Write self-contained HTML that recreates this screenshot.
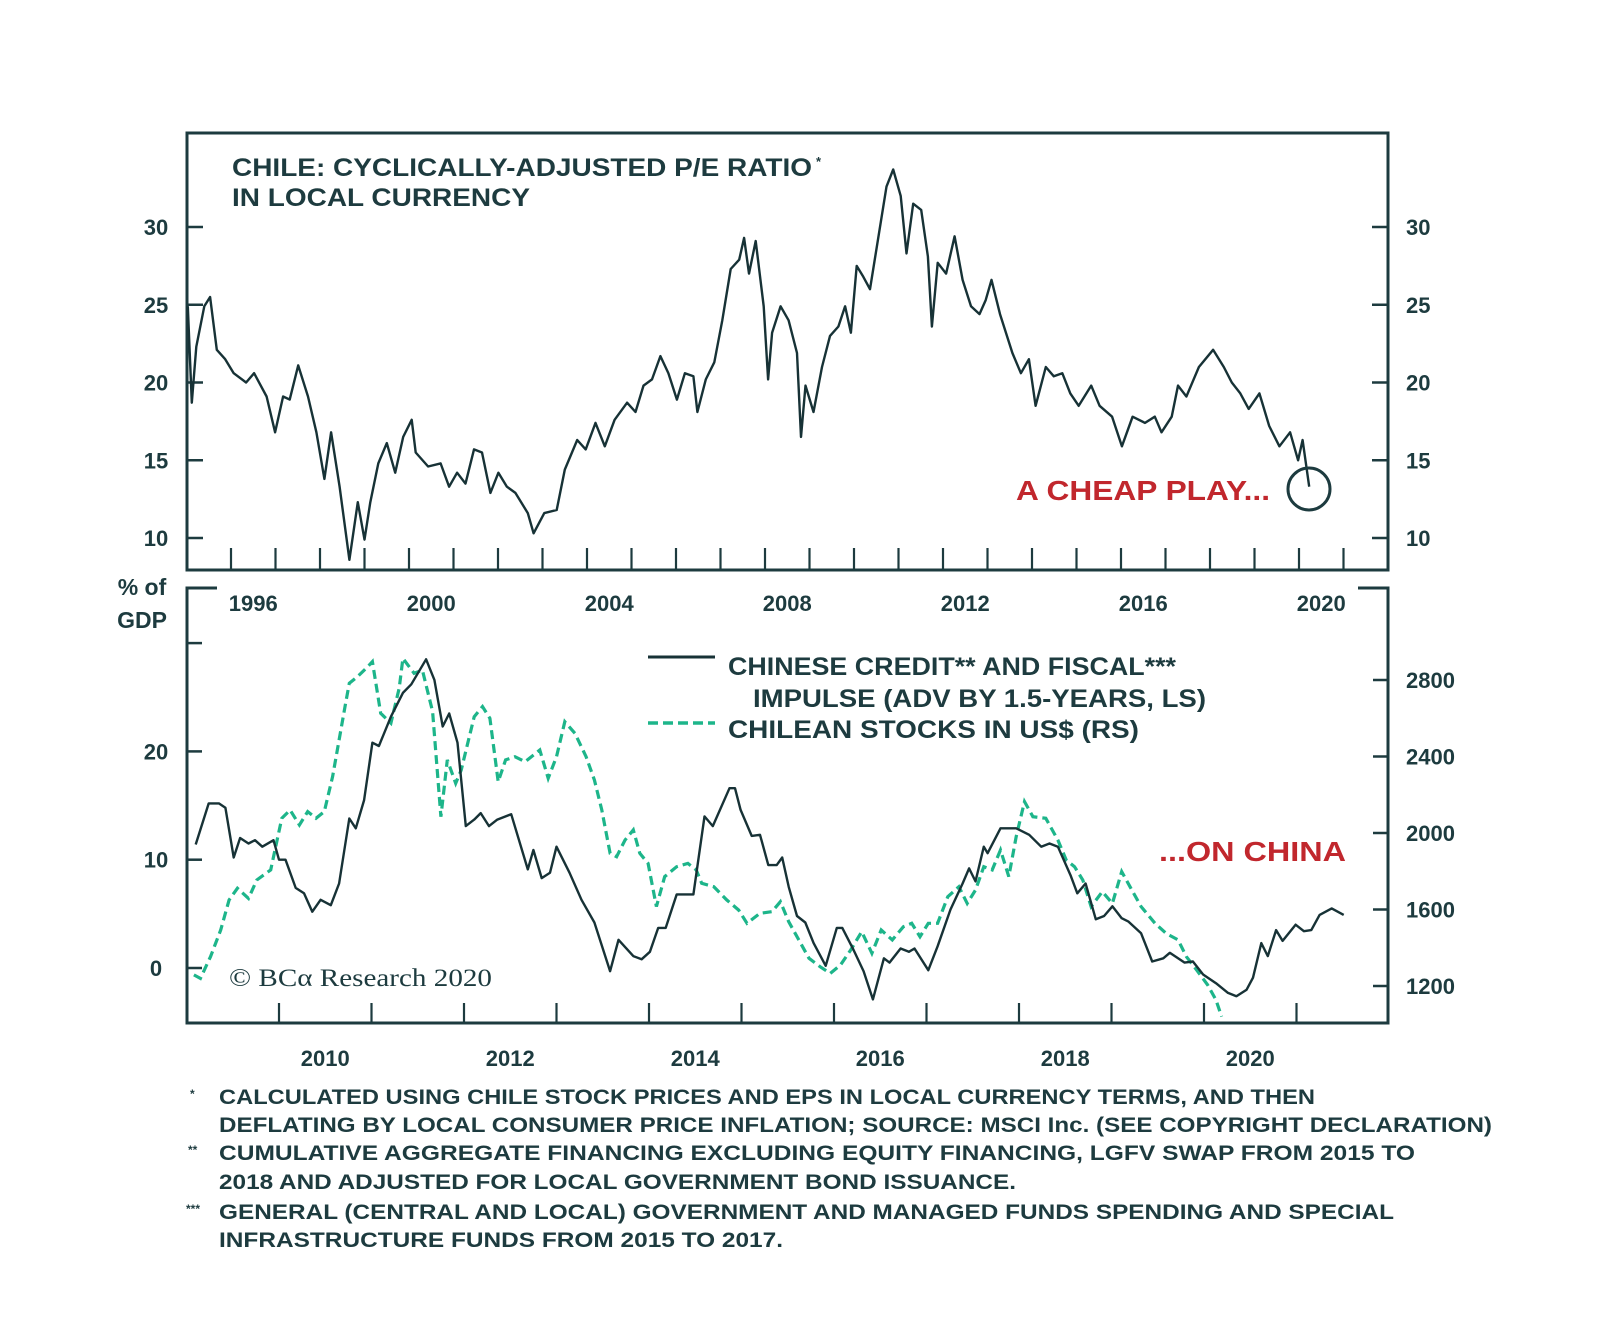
<!DOCTYPE html>
<html><head><meta charset="utf-8"><style>
html,body{margin:0;padding:0;background:#fff;}
svg text{font-family:"Liberation Sans",sans-serif;font-weight:bold;fill:#1d3b3f;}
</style></head><body>
<svg id="chart" width="1600" height="1318" viewBox="0 0 1600 1318" xmlns="http://www.w3.org/2000/svg">
<rect width="1600" height="1318" fill="#fff"/>
<g id="top-panel"></g>
<g id="bottom-panel"></g>
</svg>
<script>
// ---- Top panel data: Chile CAPE (year, value)
const peYears=[1995.03,1995.12,1995.22,1995.40,1995.53,1995.68,1995.87,1996.06,1996.34,1996.52,1996.80,1996.99,1997.17,1997.32,1997.51,1997.73,1997.92,1998.10,1998.25,1998.44,1998.66,1998.85,1999.00,1999.13,1999.31,1999.50,1999.69,1999.87,2000.06,2000.15,2000.43,2000.71,2000.90,2001.08,2001.27,2001.46,2001.64,2001.83,2002.01,2002.20,2002.39,2002.67,2002.80,2003.04,2003.32,2003.50,2003.78,2003.97,2004.19,2004.40,2004.62,2004.90,2005.09,2005.27,2005.46,2005.65,2005.83,2006.02,2006.20,2006.39,2006.48,2006.67,2006.86,2007.04,2007.23,2007.42,2007.53,2007.64,2007.79,2007.97,2008.07,2008.16,2008.35,2008.53,2008.72,2008.81,2008.91,2009.09,2009.28,2009.46,2009.65,2009.80,2009.93,2010.06,2010.21,2010.36,2010.54,2010.73,2010.88,2011.05,2011.18,2011.33,2011.51,2011.66,2011.75,2011.88,2012.07,2012.26,2012.44,2012.63,2012.82,2012.96,2013.09,2013.28,2013.56,2013.75,2013.93,2014.08,2014.31,2014.49,2014.68,2014.86,2015.05,2015.33,2015.52,2015.80,2016.02,2016.26,2016.54,2016.76,2016.91,2017.14,2017.28,2017.47,2017.75,2018.07,2018.31,2018.49,2018.68,2018.87,2019.11,2019.33,2019.56,2019.80,2019.98,2020.08,2020.23];
const peValues=[24.9,18.7,22.3,24.9,25.5,22.1,21.5,20.6,20,20.6,19.1,16.8,19.1,18.9,21.1,19.1,16.8,13.8,16.8,13.3,8.6,12.3,9.9,12.3,14.8,16.1,14.2,16.5,17.6,15.5,14.6,14.8,13.3,14.2,13.5,15.7,15.5,12.9,14.2,13.3,12.9,11.6,10.3,11.6,11.8,14.4,16.3,15.7,17.4,15.9,17.6,18.7,18.1,19.8,20.2,21.7,20.6,18.9,20.6,20.4,18.1,20.2,21.3,24,27.3,27.9,29.3,27,29.1,24.9,20.2,23.2,24.9,24,21.9,16.5,19.8,18.1,21,23,23.6,24.9,23.2,27.5,26.8,26,29.2,32.6,33.7,32,28.3,31.5,31.1,28.1,23.6,27.7,27,29.4,26.6,24.9,24.4,25.3,26.6,24.4,21.9,20.6,21.5,18.5,21,20.4,20.6,19.3,18.5,19.8,18.5,17.8,15.9,17.8,17.4,17.8,16.8,17.8,19.8,19.1,21,22.1,21,20,19.3,18.3,19.3,17.2,15.9,16.8,15,16.3,13.3];
const peTicks=[10,15,20,25,30];
const topYearLabels=[1996,2000,2004,2008,2012,2016,2020];
// ---- Bottom panel data
const impYears=[2009.10,2009.24,2009.35,2009.42,2009.51,2009.58,2009.67,2009.74,2009.82,2009.94,2010.00,2010.07,2010.18,2010.27,2010.36,2010.45,2010.56,2010.65,2010.76,2010.83,2010.92,2011.01,2011.08,2011.21,2011.34,2011.43,2011.59,2011.68,2011.77,2011.84,2011.93,2012.02,2012.11,2012.18,2012.27,2012.36,2012.51,2012.69,2012.75,2012.84,2012.93,2013.00,2013.14,2013.27,2013.41,2013.58,2013.67,2013.83,2013.92,2014.01,2014.10,2014.18,2014.30,2014.48,2014.60,2014.69,2014.87,2014.93,2014.99,2015.11,2015.20,2015.29,2015.38,2015.44,2015.51,2015.60,2015.69,2015.78,2015.91,2016.03,2016.09,2016.21,2016.32,2016.42,2016.54,2016.60,2016.72,2016.81,2016.87,2017.02,2017.12,2017.26,2017.39,2017.46,2017.53,2017.62,2017.66,2017.80,2017.97,2018.11,2018.24,2018.33,2018.42,2018.56,2018.63,2018.72,2018.83,2018.92,2019.01,2019.11,2019.18,2019.32,2019.44,2019.56,2019.63,2019.79,2019.88,2019.99,2020.13,2020.26,2020.35,2020.46,2020.53,2020.62,2020.69,2020.78,2020.85,2020.99,2021.08,2021.16,2021.25,2021.38,2021.51];
const impValues=[11.4,15.2,15.2,14.8,10.2,12.0,11.5,11.8,11.2,11.8,10.0,10.0,7.4,6.9,5.2,6.3,5.8,7.8,13.8,12.9,15.5,20.8,20.5,23.2,25.4,26.2,28.5,26.6,22.3,23.5,20.8,13.1,13.7,14.3,13.1,13.7,14.2,9.1,10.9,8.3,8.8,11.2,8.8,6.3,4.2,-0.3,2.6,1.1,0.8,1.5,3.7,3.7,6.8,6.8,14.0,13.1,16.6,16.6,14.6,12.2,12.3,9.5,9.5,10.2,7.5,4.8,4.2,2.3,0.2,3.7,3.7,1.7,-0.3,-2.9,0.9,0.5,1.8,1.5,1.8,-0.2,2.0,5.4,7.8,9.2,8.0,11.2,10.6,12.9,12.9,12.3,11.2,11.5,11.2,8.5,6.9,7.8,4.5,4.8,5.7,4.6,4.3,3.2,0.6,0.9,1.4,0.5,0.6,-0.6,-1.4,-2.3,-2.6,-2.0,-0.9,2.3,1.1,3.5,2.5,4.0,3.4,3.5,4.9,5.5,4.9];
const stkYears=[2009.08,2009.15,2009.26,2009.37,2009.46,2009.55,2009.67,2009.76,2009.91,2010.03,2010.12,2010.22,2010.31,2010.40,2010.49,2010.58,2010.72,2010.76,2010.85,2010.96,2011.01,2011.10,2011.21,2011.30,2011.34,2011.46,2011.55,2011.66,2011.75,2011.82,2011.91,2011.97,2012.11,2012.20,2012.28,2012.37,2012.45,2012.55,2012.66,2012.82,2012.91,2013.00,2013.09,2013.20,2013.32,2013.41,2013.49,2013.58,2013.65,2013.74,2013.83,2013.90,2013.99,2014.08,2014.17,2014.30,2014.42,2014.51,2014.57,2014.70,2014.84,2014.97,2015.06,2015.20,2015.33,2015.42,2015.51,2015.62,2015.73,2015.85,2015.96,2016.07,2016.18,2016.30,2016.41,2016.51,2016.63,2016.75,2016.84,2016.93,2017.02,2017.12,2017.23,2017.35,2017.44,2017.53,2017.62,2017.71,2017.80,2017.89,2017.97,2018.06,2018.15,2018.29,2018.42,2018.51,2018.60,2018.69,2018.78,2018.90,2019.01,2019.11,2019.20,2019.32,2019.47,2019.59,2019.72,2019.81,2019.92,2020.04,2020.13,2020.19];
const stkValues=[1258,1240,1353,1493,1650,1711,1658,1754,1807,2077,2120,2042,2112,2077,2112,2295,2678,2783,2818,2870,2896,2626,2574,2757,2913,2835,2852,2635,2085,2382,2260,2329,2608,2661,2600,2268,2382,2399,2373,2434,2286,2399,2582,2521,2399,2277,2120,1894,1876,1963,2016,1894,1841,1615,1772,1824,1841,1807,1737,1719,1650,1597,1528,1580,1589,1641,1536,1441,1345,1301,1266,1310,1388,1484,1371,1493,1441,1510,1528,1458,1528,1528,1667,1719,1632,1702,1824,1807,1911,1772,1981,2164,2085,2077,1963,1859,1824,1754,1615,1693,1632,1798,1719,1615,1528,1475,1441,1353,1284,1205,1127,1040];
const leftTicks=[0,10,20];
const rightTicks=[1200,1600,2000,2400,2800];
const bottomYearLabels=[2010,2012,2014,2016,2018,2020];

const NS='http://www.w3.org/2000/svg';
function mk(parent,tag,attrs,txt){const e=document.createElementNS(NS,tag);for(const k in attrs)e.setAttribute(k,attrs[k]);if(txt!==undefined)e.textContent=txt;parent.appendChild(e);return e;}
const C='#1d3b3f', RED='#c1272d', GREEN='#1db58a';
const RX=1388;
// axis functions
const xTop=y=>231+(y-1996)*44.5;
const yTop=v=>227+(30-v)*15.55;
const xBot=y=>279+(y-2010)*92.5;
const yLeft=v=>968-v*10.83;
const yRight=v=>986-(v-1200)*0.19125;

const T=document.getElementById('top-panel');
const B=document.getElementById('bottom-panel');

// ---- TOP PANEL
let f=mk(T,'path',{d:'M187,133 H'+RX+' V570 H187 Z',fill:'none',stroke:C,'stroke-width':3});

peTicks.forEach(v=>{
  const y=yTop(v);
  let t=mk(T,'line',{x1:187,x2:203,y1:y,y2:y,stroke:C,'stroke-width':2.5});
  
  t=mk(T,'line',{x1:RX-16,x2:RX,y1:y,y2:y,stroke:C,'stroke-width':2.5});
  
  let l=mk(T,'text',{x:156,y:y+8,'font-size':22,'text-anchor':'middle'},String(v));
  
  l=mk(T,'text',{x:1406,y:y+8,'font-size':22},String(v));
  
});
for(let yr=1996;yr<=2021;yr++){
  const x=xTop(yr);
  const t=mk(T,'line',{x1:x,x2:x,y1:548,y2:570,stroke:C,'stroke-width':2.2});
  
}
topYearLabels.forEach(yr=>{
  const l=mk(T,'text',{x:xTop(yr+0.5),y:611,'font-size':22,'text-anchor':'middle'},String(yr));
  
});
let p=mk(T,'path',{d:peYears.map((y,i)=>(i?'L':'M')+xTop(y).toFixed(1)+','+yTop(peValues[i]).toFixed(1)).join(''),fill:'none',stroke:'#173236','stroke-width':2.4,'stroke-linejoin':'round'});

let tt=mk(T,'text',{x:232,y:176,'font-size':25,textLength:580,lengthAdjust:'spacingAndGlyphs'},'CHILE: CYCLICALLY-ADJUSTED P/E RATIO');

mk(T,'text',{x:816,y:166,'font-size':13},'*');
tt=mk(T,'text',{x:232,y:206,'font-size':25,textLength:298,lengthAdjust:'spacingAndGlyphs'},'IN LOCAL CURRENCY');

tt=mk(T,'text',{x:1016,y:500,'font-size':28,textLength:254,lengthAdjust:'spacingAndGlyphs',style:'fill:'+RED},'A CHEAP PLAY...');

let c=mk(T,'circle',{cx:1309,cy:489,r:21,fill:'none',stroke:C,'stroke-width':3});


// ---- BOTTOM PANEL
f=mk(B,'path',{d:'M217,588 H187 V1023 H'+RX+' V588 H'+(RX-30),fill:'none',stroke:C,'stroke-width':3});

let tk=mk(B,'line',{x1:187,x2:202,y1:yLeft(30),y2:yLeft(30),stroke:C,'stroke-width':2.5});

leftTicks.forEach(v=>{
  const y=yLeft(v);
  const t=mk(B,'line',{x1:187,x2:202,y1:y,y2:y,stroke:C,'stroke-width':2.5});
  
  const l=mk(B,'text',{x:156,y:y+8,'font-size':22,'text-anchor':'middle'},String(v));
  
});
rightTicks.forEach(v=>{
  const y=yRight(v);
  const t=mk(B,'line',{x1:RX-15,x2:RX,y1:y,y2:y,stroke:C,'stroke-width':2.5});
  
  const l=mk(B,'text',{x:1406,y:y+8,'font-size':22},String(v));
  
});
for(let yr=2010;yr<=2021;yr++){
  const x=xBot(yr);
  const t=mk(B,'line',{x1:x,x2:x,y1:1003,y2:1023,stroke:C,'stroke-width':2.2});
  
}
bottomYearLabels.forEach(yr=>{
  const l=mk(B,'text',{x:xBot(yr+0.5),y:1066,'font-size':22,'text-anchor':'middle'},String(yr));
  
});
let u=mk(B,'text',{x:142,y:595,'font-size':23,'text-anchor':'middle'},'% of');

u=mk(B,'text',{x:142,y:628,'font-size':23,'text-anchor':'middle'},'GDP');

p=mk(B,'path',{d:stkYears.map((y,i)=>(i?'L':'M')+xBot(y).toFixed(1)+','+yRight(stkValues[i]).toFixed(1)).join(''),fill:'none',stroke:GREEN,'stroke-width':3.2,'stroke-dasharray':'9,5'});

p=mk(B,'path',{d:impYears.map((y,i)=>(i?'L':'M')+xBot(y).toFixed(1)+','+yLeft(impValues[i]).toFixed(1)).join(''),fill:'none',stroke:'#173236','stroke-width':2.4,'stroke-linejoin':'round'});

// legend
let lg=mk(B,'line',{x1:648,x2:715,y1:657,y2:657,stroke:'#173236','stroke-width':3});

lg=mk(B,'text',{x:728,y:675,'font-size':25,textLength:448,lengthAdjust:'spacingAndGlyphs'},'CHINESE CREDIT** AND FISCAL***');

lg=mk(B,'text',{x:753,y:707,'font-size':25,textLength:453,lengthAdjust:'spacingAndGlyphs'},'IMPULSE (ADV BY 1.5-YEARS, LS)');

lg=mk(B,'line',{x1:648,x2:715,y1:723,y2:723,stroke:GREEN,'stroke-width':3.5,'stroke-dasharray':'10,5'});

lg=mk(B,'text',{x:728,y:738,'font-size':25,textLength:411,lengthAdjust:'spacingAndGlyphs'},'CHILEAN STOCKS IN US$ (RS)');

lg=mk(B,'text',{x:1159,y:861,'font-size':28,textLength:187,lengthAdjust:'spacingAndGlyphs',style:'fill:'+RED},'...ON CHINA');

lg=mk(B,'text',{x:229,y:986,'font-size':25,textLength:263,lengthAdjust:'spacingAndGlyphs',style:'font-family:\"Liberation Serif\",serif;font-weight:normal'},'© BCα Research 2020');


// ---- footnotes
const notes=[
 [190,219,1104,1096,'*','CALCULATED USING CHILE STOCK PRICES AND EPS IN LOCAL CURRENCY TERMS, AND THEN'],
 [0,219,1132,1273,'','DEFLATING BY LOCAL CONSUMER PRICE INFLATION; SOURCE: MSCI Inc. (SEE COPYRIGHT DECLARATION)'],
 [188,219,1160,1196,'**','CUMULATIVE AGGREGATE FINANCING EXCLUDING EQUITY FINANCING, LGFV SWAP FROM 2015 TO'],
 [0,219,1189,797,'','2018 AND ADJUSTED FOR LOCAL GOVERNMENT BOND ISSUANCE.'],
 [186,219,1219,1175,'***','GENERAL (CENTRAL AND LOCAL) GOVERNMENT AND MANAGED FUNDS SPENDING AND SPECIAL'],
 [0,219,1247,564,'','INFRASTRUCTURE FUNDS FROM 2015 TO 2017.']
];
notes.forEach(n=>{
  if(n[4]){const s=mk(document.getElementById('chart'),'text',{x:n[0],y:n[2]-6,'font-size':12},n[4]);
    }
  const t=mk(document.getElementById('chart'),'text',{x:n[1],y:n[2],'font-size':21,textLength:n[3],lengthAdjust:'spacingAndGlyphs'},n[5]);
  
});
</script>
</body></html>
